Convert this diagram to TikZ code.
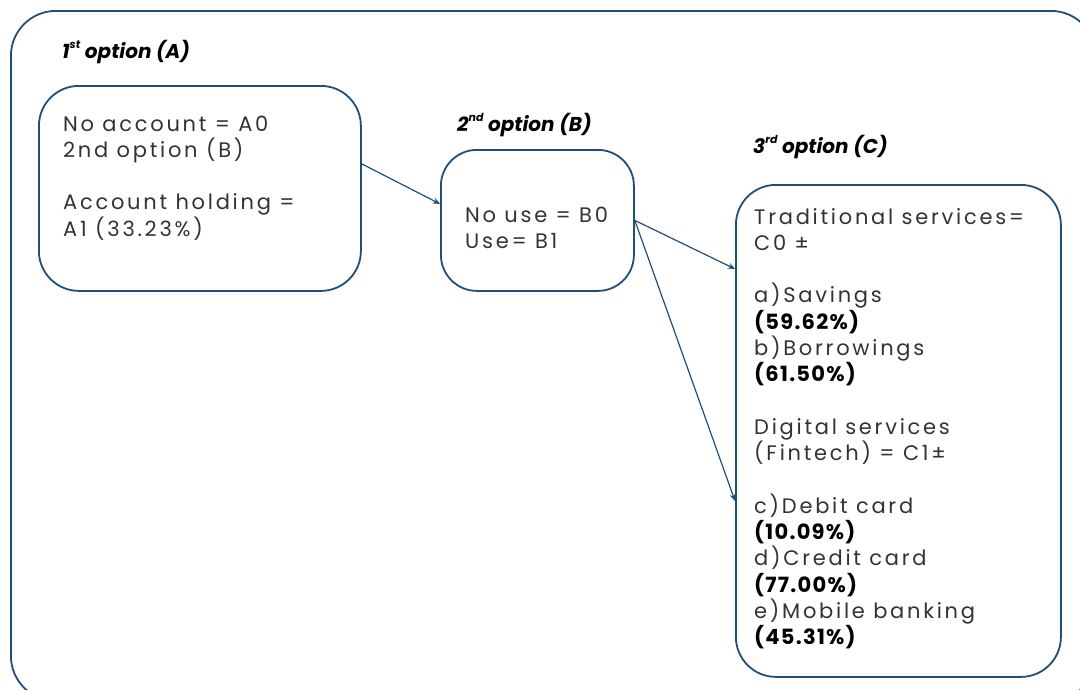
\documentclass[tikz,border=0pt]{standalone}
\usepackage{fontspec}
\setmainfont{Poppins}
\newfontfamily\bodyfont[LetterSpace=13,BoldFeatures={LetterSpace=6}]{Poppins}
\usetikzlibrary{arrows.meta}
\definecolor{frame}{HTML}{1F4E79}
\definecolor{txt}{HTML}{333333}
\newcommand\sups[1]{\raisebox{0.5em}{\fontsize{11}{11}\selectfont #1}}
\newcommand\blines[1]{\vtop{\lineskiplimit=-100pt\lineskip=0pt\baselineskip=26.3pt\halign{##\hfil\cr #1\crcr}}}
\begin{document}
\begin{tikzpicture}[x=1pt,y=-1pt,
  box/.style={draw=frame,line width=1.8pt,rounded corners=40pt,anchor=north west,inner sep=0pt},
  body/.style={anchor=base west,inner sep=0pt,text=txt,font=\bodyfont\fontsize{21}{26.3}\selectfont},
  bold/.style={text=black},
  title/.style={anchor=base west,inner sep=0pt,text=black,font=\fontsize{20}{22}\selectfont\bfseries\itshape},
  conn/.style={draw=frame,line width=1.2pt,-{Stealth[length=7pt,width=6pt]}}]
\useasboundingbox (0,0) rectangle (1080,689);
\clip (0,0) rectangle (1080,689);
% outer frame
\node[box,rounded corners=45pt,minimum width=1085pt,minimum height=690pt] (frame) at (10,10) {};
% boxes
\node[box,minimum width=322pt,minimum height=205pt] (A) at (38,85) {};
\node[box,rounded corners=36pt,minimum width=193pt,minimum height=141pt] (B) at (440,149) {};
\node[box,minimum width=325pt,minimum height=492pt] (C) at (735,184) {};
% titles
\node[title] (tA) at (62,58) {1\sups{st} option (A)};
\node[title] (tB) at (457,131.5) {2\sups{nd} option (B)};
\node[title] (tC) at (753,153) {3\sups{rd} option (C)};
% texts
\node[body] (xA) at (63,131) {\blines{No account = A0\cr 2nd option (B)\cr \cr Account holding =\cr A1 (33.23\%)}};
\node[body] (xB) at (465,222) {\blines{No use = B0\cr Use= B1}};
\node[body] (xC) at (754,224) {\blines{Traditional services=\cr C0 ±\cr \cr a)Savings\cr \textbf{\color{black}(59.62\%)}\cr b)Borrowings\cr \textbf{\color{black}(61.50\%)}\cr \cr Digital services\cr (Fintech) = C1±\cr \cr c)Debit card\cr \textbf{\color{black}(10.09\%)}\cr d)Credit card\cr \textbf{\color{black}(77.00\%)}\cr e)Mobile banking\cr \textbf{\color{black}(45.31\%)}}};
% connectors
\draw[conn] ([yshift=24.5pt]A.east) -- ([yshift=16.5pt]B.west);
\draw[conn] (B.east) -- ([yshift=162pt]C.west);
\draw[conn] (B.east) -- ([yshift=-70pt]C.west);
\end{tikzpicture}
\end{document}
